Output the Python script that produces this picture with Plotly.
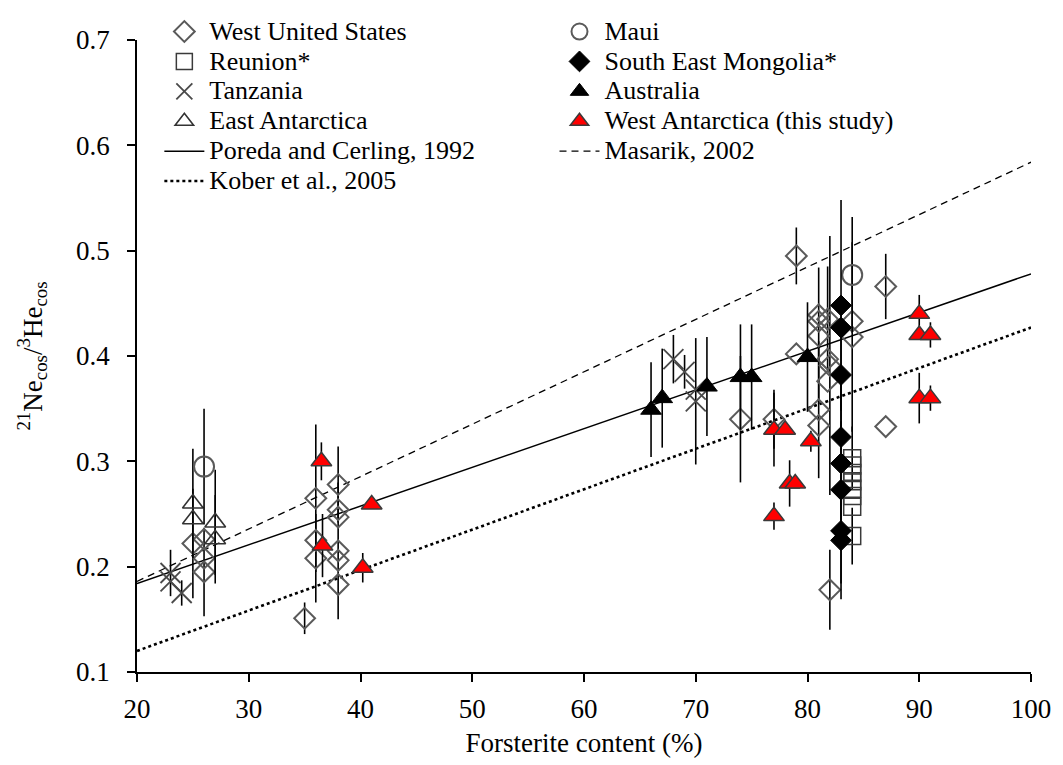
import plotly.graph_objects as go

# ---- data -------------------------------------------------------------
# West United States (open diamonds)
wus_fo = [25, 26, 26, 26, 35, 36, 36, 36, 38, 38, 38, 38, 38, 38,
          74, 77, 79, 79, 81, 81, 81, 81, 81, 81.8, 81.8, 82, 81.8, 82, 84, 84, 87, 87]
wus_ratio = [0.222, 0.226, 0.208, 0.195, 0.151, 0.265, 0.225, 0.208, 0.278, 0.254, 0.247, 0.215, 0.206, 0.183,
             0.340, 0.340, 0.495, 0.402, 0.439, 0.433, 0.419, 0.349, 0.334, 0.435, 0.397, 0.391, 0.376, 0.178,
             0.433, 0.418, 0.466, 0.333]
wus_err = [0.052, 0, 0, 0.042, 0.015, 0.07, 0, 0.042, 0.036, 0, 0, 0.065, 0, 0,
           0.06, 0.028, 0.027, 0, 0, 0, 0.065, 0.065, 0, 0.05, 0, 0.123, 0, 0.038,
           0, 0.09, 0.031, 0]

# Maui (open circles)
maui_fo = [26, 84]
maui_ratio = [0.295, 0.477]
maui_err = [0.055, 0.055]

# Reunion* (open squares)
reu_fo = [84, 84, 84, 84, 84, 84, 84, 84]
reu_ratio = [0.303, 0.296, 0.289, 0.281, 0.274, 0.267, 0.257, 0.229]
reu_err = [0.03, 0, 0, 0, 0, 0, 0, 0.027]

# South East Mongolia* (filled diamonds)
mon_fo = [83, 83, 83, 83, 83, 83, 83, 83]
mon_ratio = [0.448, 0.427, 0.382, 0.323, 0.298, 0.273, 0.234, 0.225]
mon_err = [0.1, 0, 0.06, 0.05, 0.04, 0.04, 0.05, 0.056]

# Tanzania (asterisks)
tan_fo = [23, 23, 24, 68, 69, 70, 70]
tan_ratio = [0.194, 0.186, 0.175, 0.397, 0.385, 0.368, 0.357]
tan_err = [0.022, 0, 0.012, 0.023, 0.016, 0, 0.06]

# Australia (filled triangles)
aus_fo = [66, 67, 71, 74, 75, 80]
aus_ratio = [0.349, 0.360, 0.371, 0.380, 0.380, 0.399]
aus_err = [0.045, 0.047, 0.047, 0.05, 0.05, 0.052]

# East Antarctica (open triangles)
ea_fo = [25, 25, 27, 27]
ea_ratio = [0.260, 0.245, 0.242, 0.226]
ea_err = [0.052, 0, 0.05, 0.042]

# West Antarctica, this study (red triangles)
wa_fo = [36.5, 36.6, 40.2, 41, 77, 78, 80.3, 78.4, 78.9, 77, 90, 90, 91, 90, 91]
wa_ratio = [0.300, 0.220, 0.199, 0.259, 0.330, 0.330, 0.319, 0.279, 0.279, 0.248,
            0.440, 0.420, 0.420, 0.360, 0.360]
wa_err = [0.018, 0.03, 0.014, 0, 0.035, 0, 0.01, 0.022, 0, 0.013,
          0.018, 0, 0.012, 0.024, 0.012]

# Production-rate relations
line_fo = [20, 100]
poreda = [0.184, 0.478]
masarik = [0.186, 0.584]
kober = [0.120, 0.427]

FONT = "Liberation Serif, Times New Roman, serif"
LEGEND_PX = 26
TICK_PX = 27


def err(values):
    return dict(type="data", array=values, visible=True, color="black",
                thickness=1.6, width=0)


def label(text):
    # legend rows stay compact while the label itself is drawn larger
    return f'<span style="font-size:{LEGEND_PX}px">{text}</span>'


fig = go.Figure()

# relation lines (drawn underneath the samples)
fig.add_trace(go.Scatter(x=line_fo, y=poreda, mode="lines", name=label("Poreda and Cerling, 1992"),
                         line=dict(color="black", width=1.5), legend="legend", legendrank=5))
fig.add_trace(go.Scatter(x=line_fo, y=masarik, mode="lines", name=label("Masarik, 2002"),
                         line=dict(color="black", width=1.3, dash="7px,5px"), legend="legend2", legendrank=5))
fig.add_trace(go.Scatter(x=line_fo, y=kober, mode="lines", name=label("Kober et al., 2005"),
                         line=dict(color="black", width=2.6, dash="dot"), legend="legend", legendrank=6))

grey = "#5a5a5a"
fig.add_trace(go.Scatter(x=wus_fo, y=wus_ratio, mode="markers", name=label("West United States"),
                         error_y=err(wus_err), legend="legend", legendrank=1,
                         marker=dict(symbol="diamond-open", size=16, color=grey,
                                     line=dict(width=2, color=grey))))
fig.add_trace(go.Scatter(x=reu_fo, y=reu_ratio, mode="markers", name=label("Reunion*"),
                         error_y=err(reu_err), legend="legend", legendrank=2,
                         marker=dict(symbol="square-open", size=17, color="#3a3a3a",
                                     line=dict(width=1.5, color="#3a3a3a"))))
fig.add_trace(go.Scatter(x=tan_fo, y=tan_ratio, mode="markers", name=label("Tanzania"),
                         error_y=err(tan_err), legend="legend", legendrank=3,
                         marker=dict(symbol="x-thin-open", size=20, color="#4a4a4a",
                                     line=dict(width=1.8, color="#4a4a4a"))))
fig.add_trace(go.Scatter(x=ea_fo, y=ea_ratio, mode="markers", name=label("East Antarctica"),
                         error_y=err(ea_err), legend="legend", legendrank=4,
                         marker=dict(symbol="triangle-up-open", size=18, color="#333333",
                                     line=dict(width=1.6, color="#333333"))))
fig.add_trace(go.Scatter(x=maui_fo, y=maui_ratio, mode="markers", name=label("Maui"),
                         error_y=err(maui_err), legend="legend2", legendrank=1,
                         marker=dict(symbol="circle-open", size=20, color=grey,
                                     line=dict(width=2, color=grey))))
fig.add_trace(go.Scatter(x=mon_fo, y=mon_ratio, mode="markers", name=label("South East Mongolia*"),
                         error_y=err(mon_err), legend="legend2", legendrank=2,
                         marker=dict(symbol="diamond", size=16, color="black",
                                     line=dict(width=1, color="black"))))
fig.add_trace(go.Scatter(x=aus_fo, y=aus_ratio, mode="markers", name=label("Australia"),
                         error_y=err(aus_err), legend="legend2", legendrank=3,
                         marker=dict(symbol="triangle-up", size=18, color="black",
                                     line=dict(width=1, color="black"))))
fig.add_trace(go.Scatter(x=wa_fo, y=wa_ratio, mode="markers", name=label("West Antarctica (this study)"),
                         error_y=err(wa_err), legend="legend2", legendrank=4,
                         marker=dict(symbol="triangle-up", size=18, color="#ff0000",
                                     line=dict(width=1.5, color="#3a3a3a"))))

axis_common = dict(showline=True, linecolor="black", linewidth=1.5, showgrid=False,
                   zeroline=False, ticks="outside", ticklen=8, tickcolor="black",
                   tickwidth=1.5, tickfont=dict(family=FONT, size=TICK_PX, color="black"))

legend_common = dict(orientation="v", y=1.045, xanchor="left", yanchor="top",
                     itemwidth=40, bgcolor="rgba(0,0,0,0)", traceorder="normal",
                     font=dict(family=FONT, size=20.7, color="black"))

fig.update_layout(
    width=1063, height=765,
    paper_bgcolor="white", plot_bgcolor="white",
    margin=dict(l=137, r=23, t=29, b=93),
    font=dict(family=FONT, size=TICK_PX, color="black"),
    xaxis=dict(range=[20, 100], dtick=10, tick0=20,
               title=dict(text="Forsterite content (%)", font=dict(family=FONT, size=TICK_PX),
                          standoff=10),
               ticklabelstandoff=4, **axis_common),
    yaxis=dict(range=[0.1, 0.7], dtick=0.1, tick0=0.1, tickformat=".1f",
               title=dict(text="<sup>21</sup>Ne<sub>cos</sub>/<sup>3</sup>He<sub>cos</sub>",
                          font=dict(family=FONT, size=TICK_PX), standoff=26),
               ticklabelstandoff=12, **axis_common),
    legend=dict(x=0.025, **legend_common),
    legend2=dict(x=0.467, **legend_common),
    showlegend=True,
)

fig.write_html("out.html")
